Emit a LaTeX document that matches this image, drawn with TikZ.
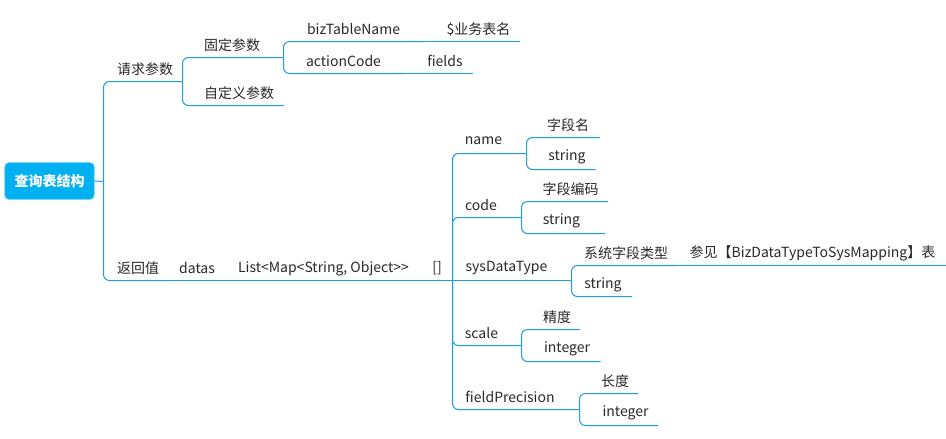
\documentclass[tikz,border=0pt]{standalone}
\usepackage{fontspec}
\setmainfont{Noto Sans CJK SC}
\usetikzlibrary{positioning}
\definecolor{lineblue}{RGB}{24,160,224}
\definecolor{rootblue}{RGB}{0,176,240}
\definecolor{darktext}{RGB}{40,40,40}

\begin{document}
\begin{tikzpicture}[x=0.75pt, y=-0.75pt,
    topic/.style={text=darktext, inner sep=0pt, font=\fontsize{10.5}{12}\selectfont},
    rootbox/.style={fill=rootblue, draw=rootblue!60, line width=0.6pt, rounded corners=3pt,
        text=white, font=\bfseries\fontsize{10.5}{12}\selectfont,
        minimum width=67pt, minimum height=27.5pt},
    link/.style={draw=lineblue, line width=0.75pt, rounded corners=4.5pt}]

    \useasboundingbox (0,0) rectangle (946,439);

    % root
    \node(root)[rootbox] at (49.5,181) {查询表结构};
    \coordinate (fork) at (103.5,181.5);

    % request side
    \node(req)[topic] at (145,69) {请求参数};
    \coordinate (req-e) at (182.5,81.5);
    \node(fixed)[topic] at (232,45) {固定参数};
    \coordinate (fixed-e) at (283.5,57.5);
    \node(custom)[topic] at (239,93) {自定义参数};
    \coordinate (custom-e) at (283.5,105.5);
    \node(biz)[topic] at (353.5,29) {bizTableName};
    \coordinate (biz-e) at (425,41.5);
    \node(bizval)[topic] at (478.5,29) {\$业务表名};
    \coordinate (bizval-e) at (520,41.5);
    \node(act)[topic] at (343.5,61) {actionCode};
    \coordinate (act-e) at (405,73.5);
    \node(actval)[topic] at (445,61) {fields};
    \coordinate (actval-e) at (472.5,73.5);

    % return side
    \node(ret)[topic] at (138,268.5) {返回值};
    \coordinate (ret-e) at (169,280.5);
    \node(datas)[topic] at (197,268.5) {datas};
    \coordinate (datas-e) at (224,280.5);
    \node(list)[topic] at (323.5,268.5) {List<Map<String, Object>{}>};
    \coordinate (list-e) at (426,280.5);
    \node(arr)[topic] at (437,268.5) {[]};
    \coordinate (arr-e) at (452.5,280.5);

    \node(name)[topic] at (483.5,141) {name};
    \coordinate (name-e) at (526.5,153.5);
    \node(namedesc)[topic] at (568,125) {字段名};
    \coordinate (namedesc-e) at (600,137.5);
    \node(nametype)[topic] at (567,157) {string};
    \coordinate (nametype-e) at (595.5,169.5);

    \node(code)[topic] at (481,205) {code};
    \coordinate (code-e) at (521.5,217.5);
    \node(codedesc)[topic] at (570.5,189) {字段编码};
    \coordinate (codedesc-e) at (608,201.5);
    \node(codetype)[topic] at (561.5,221) {string};
    \coordinate (codetype-e) at (605,233.5);

    \node(sys)[topic] at (506.5,268.5) {sysDataType};
    \coordinate (sys-e) at (571.5,280.5);
    \node(sysdesc)[topic] at (626,253) {系统字段类型};
    \coordinate (sysdesc-e) at (676,265.5);
    \node(sysref)[topic] at (812.5,253) {参见【BizDataTypeToSysMapping】表};
    \coordinate (sysref-e) at (946,265.5);
    \node(systype)[topic] at (603,285) {string};
    \coordinate (systype-e) at (632,296.5);

    \node(scale)[topic] at (481.5,333) {scale};
    \coordinate (scale-e) at (521.5,345.5);
    \node(scaledesc)[topic] at (557,317) {精度};
    \coordinate (scaledesc-e) at (580,329.5);
    \node(scaletype)[topic] at (567,349) {integer};
    \coordinate (scaletype-e) at (600.5,361.5);

    \node(prec)[topic] at (510,397) {fieldPrecision};
    \coordinate (prec-e) at (579.5,409.5);
    \node(precdesc)[topic] at (615,381) {长度};
    \coordinate (precdesc-e) at (638,393.5);
    \node(prectype)[topic] at (625.5,413) {integer};
    \coordinate (prectype-e) at (658,425.5);

    % connectors
    \draw[link] (root.east) -- (fork);
    \draw[link] (fork) |- (req-e);
    \draw[link] (fork) |- (ret-e);

    \draw[link] (req-e) |- (fixed-e);
    \draw[link] (req-e) |- (custom-e);
    \draw[link] (fixed-e) |- (biz-e);
    \draw[link] (fixed-e) |- (act-e);
    \draw[link] (biz-e) -- (bizval-e);
    \draw[link] (act-e) -- (actval-e);

    \draw[link] (ret-e) -- (datas-e) -- (list-e) -- (arr-e);
    \draw[link] (arr-e) |- (name-e);
    \draw[link] (arr-e) |- (code-e);
    \draw[link] (arr-e) -- (sys-e);
    \draw[link] (arr-e) |- (scale-e);
    \draw[link] (arr-e) |- (prec-e);

    \draw[link] (name-e) |- (namedesc-e);
    \draw[link] (name-e) |- (nametype-e);
    \draw[link] (code-e) |- (codedesc-e);
    \draw[link] (code-e) |- (codetype-e);
    \draw[link] (sys-e) |- (sysdesc-e);
    \draw[link] (sys-e) |- (systype-e);
    \draw[link] (sysdesc-e) -- (sysref-e);
    \draw[link] (scale-e) |- (scaledesc-e);
    \draw[link] (scale-e) |- (scaletype-e);
    \draw[link] (prec-e) |- (precdesc-e);
    \draw[link] (prec-e) |- (prectype-e);

\end{tikzpicture}
\end{document}
